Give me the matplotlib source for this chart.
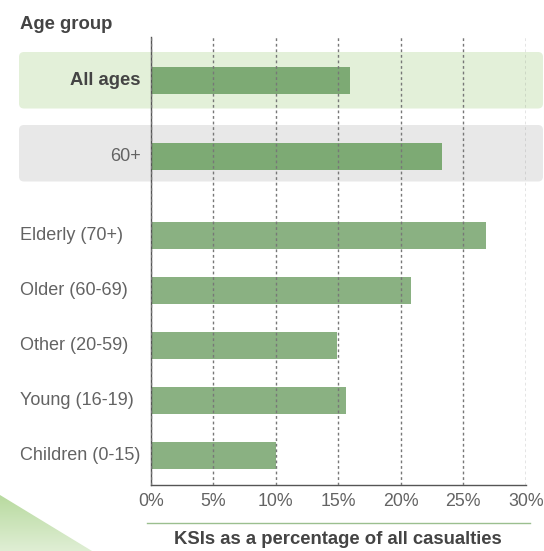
import numpy as np
import matplotlib
matplotlib.use("Agg")
import matplotlib.pyplot as plt
import matplotlib.transforms as mtransforms
from matplotlib.patches import FancyBboxPatch, Polygon

# data
groups = ["All ages", "60+", "Elderly (70+)", "Older (60-69)",
          "Other (20-59)", "Young (16-19)", "Children (0-15)"]
ksi_pct = [15.9, 23.3, 26.8, 20.8, 14.9, 15.6, 10.0]
x_ticks = [0, 5, 10, 15, 20, 25, 30]
x_tick_labels = [f"{t}%" for t in x_ticks]

W, H = 544, 551
# row layout in pixel units (top -> bottom)
row_y = [80.5, 156.5, 235.5, 290.5, 345.5, 400.5, 455.5]
bar_colors = ["#7daa74", "#7daa74"] + ["#8ab182"] * 5

light_font = dict(family=["Liberation Sans", "DejaVu Sans"], fontweight="normal")
bold_font = dict(family=["Liberation Sans", "DejaVu Sans"], fontweight="bold")

fig = plt.figure(figsize=(W / 100, H / 100), dpi=100)

# background layer in pixel coordinates
bg = fig.add_axes([0, 0, 1, 1], zorder=-5)
bg.set_xlim(0, W)
bg.set_ylim(H, 0)
bg.axis("off")
bg.add_patch(FancyBboxPatch((19, 52), 524, 56.5, boxstyle="round,pad=0,rounding_size=5",
                            facecolor="#e3f0d9", edgecolor="none"))
bg.add_patch(FancyBboxPatch((19, 125), 524, 56.5, boxstyle="round,pad=0,rounding_size=5",
                            facecolor="#e8e8e8", edgecolor="none"))
grad = np.linspace(0, 1, 100).reshape(-1, 1)
cmap = matplotlib.colors.LinearSegmentedColormap.from_list("g", ["#dfeed4", "#b8da9f"])
im = bg.imshow(grad, cmap=cmap, extent=(0, 100, 495, 551), aspect="auto", origin="upper")
tri = Polygon([(0, 495), (92, 551), (0, 551)], closed=True, transform=bg.transData)
im.set_clip_path(tri)
bg.plot([147, 530], [522.7, 522.7], color="#9bbf8f", lw=1)

# main axes
ax = fig.add_axes([151 / W, 1 - 485 / H, (525.7 - 151) / W, (485 - 37) / H])
ax.set_facecolor("none")
ax.barh(row_y, ksi_pct, height=27, color=bar_colors, zorder=1)
ax.set_xlim(0, 30)
ax.set_ylim(485, 37)
ax.set_xticks(x_ticks)
ax.set_xticklabels(x_tick_labels, color="#636363", fontsize=12.8, **light_font)
ax.set_yticks([])
ax.tick_params(axis="x", length=0, pad=6)
ax.grid(axis="x", color="#777777", linestyle=(0, (2, 2)), lw=1)
ax.set_axisbelow(False)
for s in ["top", "right"]:
    ax.spines[s].set_visible(False)
for s in ["left", "bottom"]:
    ax.spines[s].set_color("#555555")
    ax.spines[s].set_linewidth(1)

# group labels
lab_tr = mtransforms.blended_transform_factory(fig.transFigure, ax.transData)
for i, (g, y) in enumerate(zip(groups, row_y)):
    if i == 0:
        fig.text(140.6 / W, y, g, transform=lab_tr, ha="right", va="center",
                 fontsize=13.3, color="#444444", **bold_font)
    elif i == 1:
        fig.text(140.6 / W, y, g, transform=lab_tr, ha="right", va="center",
                 fontsize=13, color="#636363", **light_font)
    else:
        fig.text(20.5 / W, y, g, transform=lab_tr, ha="left", va="center",
                 fontsize=13, color="#636363", **light_font)

fig.text(20.5 / W, 1 - 29.3 / H, "Age group", ha="left", va="baseline",
         fontsize=13.3, color="#444444", **bold_font)
fig.text(338 / W, 1 - 540 / H, "KSIs as a percentage of all casualties",
         ha="center", va="center", fontsize=13.3, color="#444444", **bold_font)

fig.savefig("out.png", dpi=100)
